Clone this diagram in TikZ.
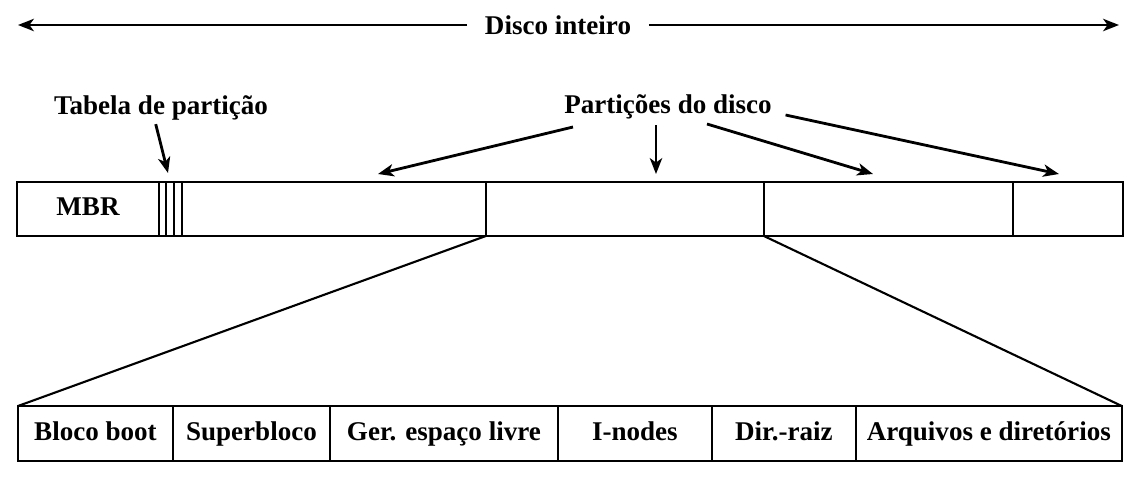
\documentclass[tikz,border=0pt]{standalone}
\usepackage{fontspec}
\setmainfont{Liberation Serif}
\usetikzlibrary{arrows.meta,positioning,calc}
\tikzset{
	lbl/.style={font=\bfseries\fontsize{15.4}{18}\selectfont, inner sep=2pt},
	box/.style={draw, rectangle, line width=1.2pt, inner sep=0pt, outer sep=0pt, minimum height=1.08cm, text height=11pt, text depth=3.5pt, font=\bfseries\fontsize{15.4}{18}\selectfont},
	fsbox/.style={box, minimum height=1.10cm},
	pointer/.style={line width=1.6pt, -{Stealth[length=9pt, width=7pt, inset=2.5pt]}}
}

\begin{document}
\begin{tikzpicture}[x=0.02cm, y=-0.02cm]
		%%%%% START %%%%%
		\useasboundingbox (0, 0) rectangle (1144, 484);
		
		% whole disk
		\node[lbl, inner xsep=10pt] (whole) at (558, 25) {Disco inteiro};
		\coordinate (wl) at (18, 25);
		\coordinate (wr) at (1119, 25);
		\draw[pointer] (whole) -- (wl);
		\draw[pointer] (whole) -- (wr);
		
		% disk bar
		\node[box, anchor=north west, minimum width=2.84cm] (mbr) at (17, 182) {MBR};
		\node[box, right=0.46cm of mbr, minimum width=6.08cm] (p1) {};
		\node[box, right=0pt of p1, minimum width=5.56cm] (p2) {};
		\node[box, right=0pt of p2, minimum width=4.98cm] (p3) {};
		\node[box, right=0pt of p3, minimum width=2.20cm] (p4) {};
		\draw[line width=1.2pt] (mbr.north east) -- (p1.north west);
		\draw[line width=1.2pt] (mbr.south east) -- (p1.south west);
		\draw[line width=1.2pt] (166, 182) -- (166, 236);
		\draw[line width=1.2pt] (174, 182) -- (174, 236);
		
		% partition table
		\node[lbl] (tab) at (161, 108) {Tabela de partição};
		\coordinate (tabtip) at (168, 173);
		\draw[pointer] ([xshift=-3pt]tab.south) -- (tabtip);
		
		% partitions
		\node[lbl] (parts) at (668, 107) {Partições do disco};
		\coordinate (t1) at (378, 174);
		\coordinate (t2) at (656, 174);
		\coordinate (t3) at (873, 174);
		\coordinate (t4) at (1059, 174);
		\draw[pointer] (573, 127) -- (t1);
		\draw[pointer] (656, 125) -- (t2);
		\draw[pointer] (707, 124) -- (t3);
		\draw[pointer] (parts.east) ++(10, 8) -- (t4);
		
		% file system layout
		\node[fsbox, anchor=north west, minimum width=3.10cm] (boot) at (18, 406) {Bloco boot};
		\node[fsbox, right=0pt of boot, minimum width=3.14cm] (super) {Superbloco};
		\node[fsbox, right=0pt of super, minimum width=4.56cm] (free) {Ger. espaço livre};
		\node[fsbox, right=0pt of free, minimum width=3.08cm] (inodes) {I-nodes};
		\node[fsbox, right=0pt of inodes, minimum width=2.88cm] (root) {Dir.-raiz};
		\node[fsbox, right=0pt of root, minimum width=5.32cm] (files) {Arquivos e diretórios};
		
		\draw[line width=1.2pt] (p2.south west) -- (boot.north west);
		\draw[line width=1.2pt] (p2.south east) -- (files.north east);
		
		%%%%% END %%%%%
\end{tikzpicture}
\end{document}
